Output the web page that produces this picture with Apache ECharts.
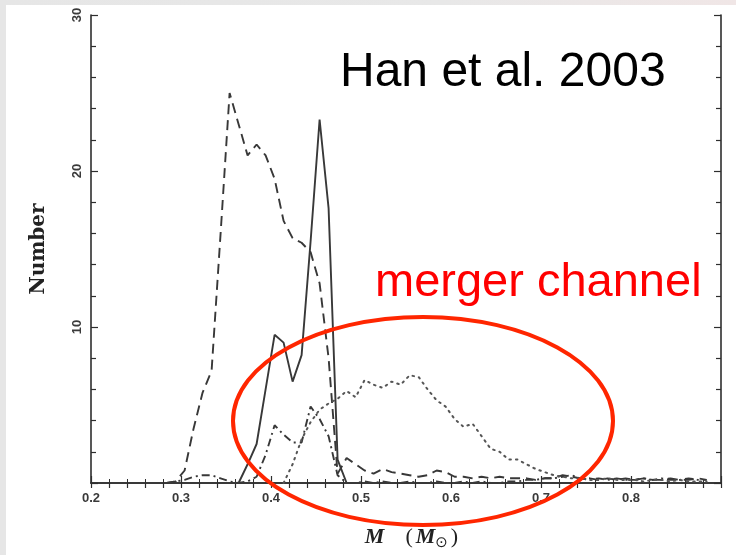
<!DOCTYPE html>
<html>
<head>
<meta charset="utf-8">
<script src="https://cdn.jsdelivr.net/npm/echarts@6/dist/echarts.min.js"></script>
<style>
  html, body { margin: 0; padding: 0; }
  body { width: 736px; height: 555px; background: linear-gradient(90deg, #e6e6e6 0%, #e8e8e8 60%, #f0e6e6 100%); position: relative; overflow: hidden; }
  #paper { position: absolute; left: 6px; top: 5px; width: 730px; height: 550px; background: #ffffff; }
  #chart { position: absolute; left: 0; top: 0; width: 736px; height: 555px; }
</style>
</head>
<body>
<div id="paper"></div>
<div id="chart"></div>
<script>
// ---- data ----
const masses = [
  0.284, 0.294, 0.304, 0.314, 0.324, 0.334, 0.344, 0.354, 0.364, 0.374,
  0.384, 0.394, 0.404, 0.414, 0.424, 0.434, 0.444, 0.454, 0.464, 0.474,
  0.484, 0.494, 0.504, 0.514, 0.524, 0.534, 0.544, 0.554, 0.564, 0.574,
  0.584, 0.594, 0.604, 0.614, 0.624, 0.634, 0.644, 0.654, 0.664, 0.674,
  0.684, 0.694, 0.704, 0.714, 0.724, 0.734, 0.744, 0.754, 0.764, 0.774,
  0.784, 0.794, 0.804, 0.814, 0.824, 0.834, 0.844, 0.854, 0.864, 0.874,
  0.884
];

// solid line
const solidCounts = [
  null, null, null, null, null, null, null, 0, 0, 1.2,
  2.5, 6.0, 9.5, 9.0, 6.5, 8.2, 15.5, 23.3, 17.6, 1.5,
  0, 0, null, null, null, null, null, null, null, null,
  null, null, null, null, null, null, null, null, null, null,
  null, null, null, null, null, null, null, null, null, null,
  null, null, null, null, null, null, null, null, null, null,
  null
];

// dashed line
const dashedCounts = [
  0, 0.1, 0.8, 3.5, 5.8, 7.2, 16.0, 25.0, 23.0, 21.0,
  21.7, 21.0, 19.5, 16.8, 15.7, 15.4, 14.8, 12.8, 8.0, 0.6,
  1.6, 1.2, 0.8, 0.6, 0.9, 0.7, 0.6, 0.5, 0.4, 0.5,
  0.8, 0.7, 0.4, 0.4, 0.3, 0.4, 0.3, 0.4, 0.3, 0.3,
  0.3, 0.2, 0.3, 0.3, 0.5, 0.4, 0.3, 0.3, 0.2, 0.3,
  0.2, 0.3, 0.2, 0.3, 0.2, 0.2, 0.3, 0.2, 0.2, 0.3,
  0.2
];

// dash-dot line
const dashDotCounts = [
  0, 0.1, 0.2, 0.4, 0.5, 0.5, 0.3, 0.1, 0, 0.1,
  0.4, 1.8, 3.7, 3.1, 2.6, 2.6, 4.9, 4.1, 3.0, 0.5,
  0, 0, 0.1, 0, 0.1, 0, 0, 0.1, 0, 0,
  0.1, 0, 0, 0.1, 0, 0.1, 0, 0, 0.1, 0.1,
  0.2, 0.2, 0.3, 0.3, 0.4, 0.5, 0.3, 0.2, 0.3, 0.2,
  0.3, 0.2, 0.2, 0.3, 0.2, 0.3, 0.2, 0.2, 0.3, 0.2,
  0.2
];

// dotted line
const dottedCounts = [
  null, null, null, null, null, null, null, null, null, null,
  null, null, null, 0, 1.2, 2.8, 3.9, 4.7, 5.1, 5.4,
  5.9, 5.5, 6.6, 6.3, 6.1, 6.5, 6.3, 6.9, 6.8, 6.0,
  5.3, 4.9, 4.1, 3.6, 3.8, 3.0, 2.2, 2.0, 1.5, 1.5,
  1.2, 0.9, 0.7, 0.5, 0.4, 0.3, 0.3, 0.2, 0.2, 0.3,
  0.2, 0.2, 0.2, 0.1, 0.2, 0.2, 0.1, 0.2, 0.1, 0.1,
  0.1
];

const xTicks = [0.2, 0.3, 0.4, 0.5, 0.6, 0.7, 0.8];
const yTicks = [10, 20, 30];

const annotationTitle = 'Han et al. 2003';
const annotationChannel = 'merger channel';

// ---- build chart ----
function pairs(vals) {
  return masses.map((m, i) => [m, vals[i]]);
}
const lineColor = '#383838';
const frame = { show: true, lineStyle: { color: '#2e2e2e', width: 1.6 } };
const tickLabelFont = { fontFamily: 'Liberation Sans', fontSize: 13, fontWeight: 'bold', color: '#3a3a3a' };

const chart = echarts.init(document.getElementById('chart'), null, { renderer: 'canvas' });
chart.setOption({
  backgroundColor: 'transparent',
  animation: false,
  grid: { left: 91, right: 15, top: 15, bottom: 72, containLabel: false, outerBoundsMode: 'none' },
  xAxis: [
    {
      type: 'value', min: 0.2, max: 0.9, interval: 0.1, position: 'bottom',
      axisLine: frame,
      axisTick: { show: true, inside: true, length: 7, lineStyle: { color: '#2e2e2e', width: 1.2 } },
      minorTick: { show: true, splitNumber: 5, length: 4, lineStyle: { color: '#2e2e2e', width: 1 } },
      splitLine: { show: false },
      axisLabel: Object.assign({
        margin: 9,
        formatter: function (v) {
          const hit = xTicks.find(t => Math.abs(t - v) < 1e-6);
          return hit === undefined ? '' : hit.toFixed(1);
        }
      }, tickLabelFont),
      name: '{it|M}{gap| }{p|(}{it|M}{sub|\u2299}{p|)}',
      nameLocation: 'middle', nameGap: 41,
      nameTextStyle: {
        padding: [0, 0, 0, 14],
        rich: {
          it: { fontFamily: 'Liberation Serif', fontStyle: 'italic', fontWeight: 'bold', fontSize: 22, color: '#222' },
          gap: { fontSize: 22, width: 18 },
          p: { fontFamily: 'Liberation Serif', fontSize: 22, color: '#222', padding: [0, 3, 0, 3] },
          sub: { fontFamily: 'DejaVu Sans', fontSize: 15, color: '#222', padding: [12, 0, 0, 0] }
        }
      }
    },
    {
      type: 'value', min: 0.2, max: 0.9, interval: 0.1, position: 'top',
      axisLine: frame,
      axisTick: { show: true, inside: true, length: 5, lineStyle: { color: '#2e2e2e', width: 1.2 } },
      minorTick: { show: true, splitNumber: 5, length: 5, lineStyle: { color: '#2e2e2e', width: 1.2 } },
      splitLine: { show: false },
      axisLabel: { show: false }
    }
  ],
  yAxis: [
    {
      type: 'value', min: 0, max: 30, interval: 10, position: 'left',
      axisLine: frame,
      axisTick: { show: true, inside: true, length: 7, lineStyle: { color: '#2e2e2e', width: 1.2 } },
      minorTick: { show: true, splitNumber: 5, length: 5, lineStyle: { color: '#2e2e2e', width: 1.2 } },
      splitLine: { show: false },
      axisLabel: Object.assign({
        rotate: 90, margin: 7,
        formatter: function (v) { return yTicks.indexOf(v) >= 0 ? String(v) : ''; }
      }, tickLabelFont),
      name: 'Number', nameLocation: 'middle', nameGap: 42, nameRotate: 90,
      nameTextStyle: { fontFamily: 'DejaVu Serif', fontWeight: 'bold', fontSize: 20, color: '#222' }
    },
    {
      type: 'value', min: 0, max: 30, interval: 10, position: 'right',
      axisLine: frame,
      axisTick: { show: true, inside: true, length: 7, lineStyle: { color: '#2e2e2e', width: 1.2 } },
      minorTick: { show: true, splitNumber: 5, length: 5, lineStyle: { color: '#2e2e2e', width: 1.2 } },
      splitLine: { show: false },
      axisLabel: { show: false }
    }
  ],
  series: [
    {
      name: 'solid', type: 'line', data: pairs(solidCounts), showSymbol: false, symbol: 'none',
      connectNulls: false, lineStyle: { color: lineColor, width: 1.9, type: 'solid' }, z: 4
    },
    {
      name: 'dashed', type: 'line', data: pairs(dashedCounts), showSymbol: false, symbol: 'none',
      lineStyle: { color: lineColor, width: 1.9, type: [10, 6] }, z: 3
    },
    {
      name: 'dashdot', type: 'line', data: pairs(dashDotCounts), showSymbol: false, symbol: 'none',
      lineStyle: { color: lineColor, width: 1.9, type: [8, 4, 2, 4] }, z: 3
    },
    {
      name: 'dotted', type: 'line', data: pairs(dottedCounts), showSymbol: false, symbol: 'none',
      lineStyle: { color: '#555', width: 2, type: [1.5, 5], cap: 'round' }, z: 3
    }
  ],
  graphic: [
    {
      type: 'text', left: 340, top: 49, z: 10,
      style: { text: annotationTitle, font: '48px "Liberation Sans"', fill: '#000' }
    },
    {
      type: 'text', left: 375, top: 260, z: 10,
      style: { text: annotationChannel, font: '47px "Liberation Sans"', fill: '#ff0000' }
    },
    {
      type: 'ellipse', z: 10,
      shape: { cx: 423, cy: 421, rx: 190, ry: 104 },
      style: { fill: 'none', stroke: '#ff2600', lineWidth: 4 }
    }
  ]
});
</script>
</body>
</html>
